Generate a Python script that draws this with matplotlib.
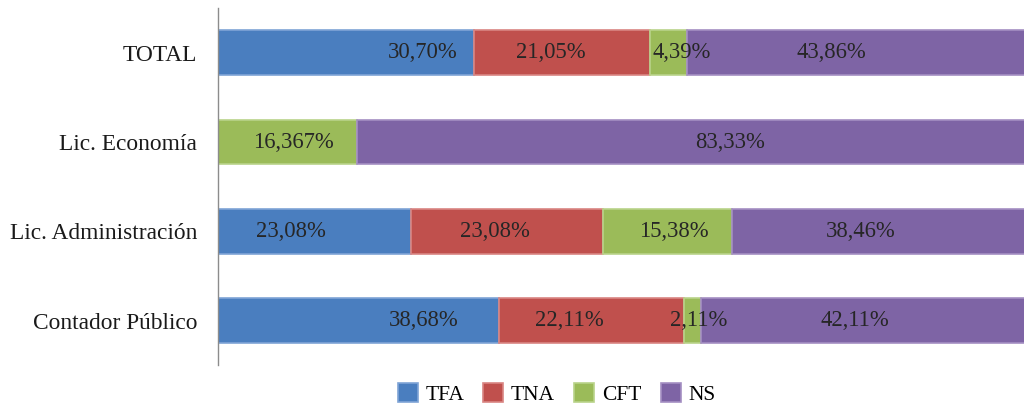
import matplotlib
matplotlib.use("Agg")
import matplotlib.pyplot as plt
import numpy as np

# Categories (bottom to top as drawn)
categories = ["Contador Público", "Lic. Administración", "Lic. Economía", "TOTAL"]
series = ["TFA", "TNA", "CFT", "NS"]
colors = ["#4A7EBF", "#C0504D", "#9BBB59", "#7E64A5"]
edge_colors = ["#7FA4D6", "#D98583", "#B9D38A", "#A48FC2"]

# Percent values per series (same order as categories)
tfa = [33.68, 23.08, 0.0, 30.70]
tna = [22.11, 23.08, 0.0, 21.05]
cft = [2.11, 15.38, 16.67, 4.39]
ns = [42.11, 38.46, 83.33, 43.86]

# Labels as printed on the chart ("" = no label)
tfa_labels = ["38,68%", "23,08%", "", "30,70%"]
tna_labels = ["22,11%", "23,08%", "", "21,05%"]
cft_labels = ["2,11%", "15,38%", "16,367%", "4,39%"]
ns_labels = ["42,11%", "38,46%", "83,33%", "43,86%"]

# small horizontal nudges of the labels (in % units) to match the original
tfa_shift = [7.8, -2.8, 0.0, 9.2]
tna_shift = [-2.7, -1.4, 0.0, -1.3]
cft_shift = [0.7, 0.7, 0.7, 1.6]
ns_shift = [-2.6, -3.8, 3.0, -4.6]

values = [tfa, tna, cft, ns]
labels = [tfa_labels, tna_labels, cft_labels, ns_labels]
shifts = [tfa_shift, tna_shift, cft_shift, ns_shift]

plt.rcParams['font.family'] = ['Liberation Serif', 'DejaVu Serif']

fig = plt.figure(figsize=(10.24, 4.05), dpi=100)
ax = fig.add_axes([0.213, 0.098, 0.815, 0.882])

y = np.arange(len(categories))
left = np.zeros(len(categories))
handles = []
for vals, lab, sh, name, c, ec in zip(values, labels, shifts, series, colors, edge_colors):
    vals = np.array(vals)
    bars = ax.barh(y, vals, left=left, height=0.5, color=c, edgecolor=ec,
                   linewidth=1.2, label=name)
    handles.append(bars)
    for i in range(len(categories)):
        if lab[i]:
            ax.text(left[i] + vals[i] / 2 + sh[i], y[i], lab[i], ha='center',
                    va='center', fontsize=16.3, color='#262626')
    left = left + vals

ax.set_xlim(0, 100)
ax.set_ylim(-0.5, 3.5)
ax.set_yticks(y)
ax.set_yticklabels(categories, fontsize=16.8, color='#1a1a1a')
ax.tick_params(axis='y', length=0, pad=15)
ax.set_xticks([])
for s in ['top', 'right', 'bottom']:
    ax.spines[s].set_visible(False)
ax.spines['left'].set_color('#8c8c8c')
ax.spines['left'].set_linewidth(1.0)

fig.legend(handles=handles, labels=series, loc='center', ncol=4,
           bbox_to_anchor=(0.5435, 0.027), frameon=False, fontsize=15.5,
           handlelength=0.93, handleheight=0.93, handletextpad=0.35,
           columnspacing=0.9)

fig.savefig("out.png", dpi=100)
